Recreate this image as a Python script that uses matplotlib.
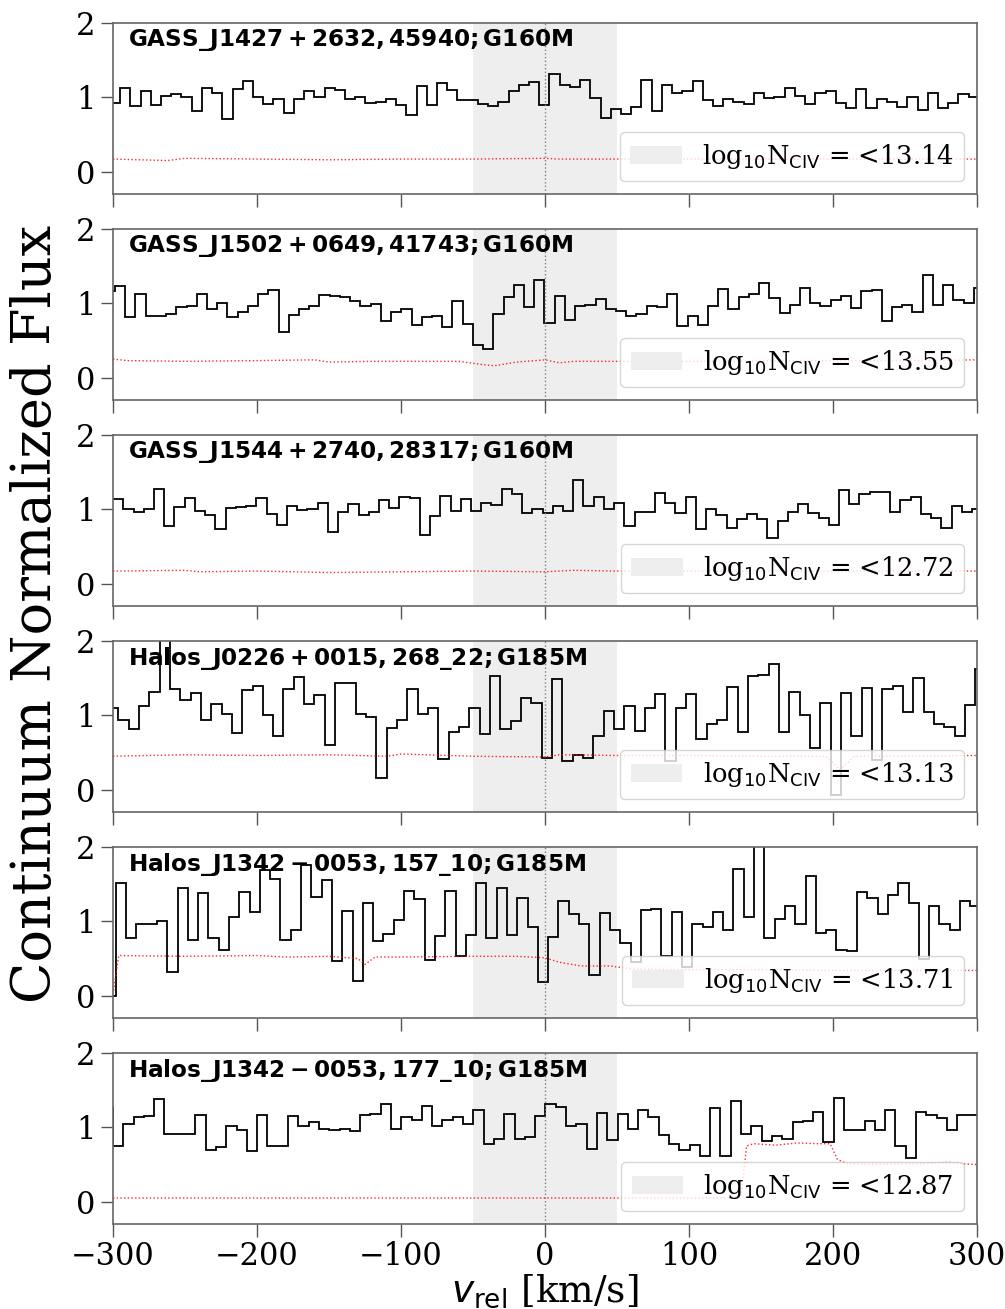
import numpy as np
import matplotlib
matplotlib.use('Agg')
import matplotlib.pyplot as plt

plt.rcParams['font.family'] = 'DejaVu Serif'
plt.rcParams['mathtext.fontset'] = 'dejavusans'

# titulos y limites superiores
titles = [r'$\mathbf{GASS\_J1427+2632,45940;G160M}$',
          r'$\mathbf{GASS\_J1502+0649,41743;G160M}$',
          r'$\mathbf{GASS\_J1544+2740,28317;G160M}$',
          r'$\mathbf{Halos\_J0226+0015,268\_22;G185M}$',
          r'$\mathbf{Halos\_J1342-0053,157\_10;G185M}$',
          r'$\mathbf{Halos\_J1342-0053,177\_10;G185M}$']
logN = ['<13.14', '<13.55', '<12.72', '<13.13', '<13.71', '<12.87']

# malla de velocidad de cada espectro: primer borde y ancho de bin [km/s]
v0 = [-302.2, -305.7, -299.9, -303.5, -305.25, -307.15]
dv = [7.10, 7.10, 7.10, 7.17, 7.15, 7.15]

flux1 = [0.93, 1.13, 0.89, 1.08, 0.90, 1.02, 1.04, 1.00, 0.81, 1.12, 1.06, 0.71, 1.11, 1.22,
         1.00, 0.91, 0.98, 0.79, 0.98, 1.09, 1.00, 1.12, 1.10, 0.98, 1.01, 0.93, 0.94, 0.98,
         0.90, 0.76, 1.15, 0.90, 1.19, 1.10, 0.96, 0.97, 0.91, 0.89, 0.94, 1.08, 1.16, 1.21,
         0.90, 1.32, 1.17, 1.14, 1.24, 0.99, 0.72, 0.84, 0.77, 0.87, 1.23, 0.81, 1.16, 1.06,
         1.08, 1.22, 0.96, 0.89, 0.98, 0.94, 0.91, 1.06, 0.99, 1.00, 1.12, 1.02, 0.91, 1.06,
         1.09, 0.92, 0.85, 1.11, 0.85, 0.98, 0.94, 0.87, 1.00, 0.83, 1.06, 0.85, 0.93, 1.04, 1.00]
flux2 = [1.17,
         1.24, 0.81, 1.13, 0.83, 0.83, 0.85, 0.95, 0.96, 1.12, 0.93, 1.00, 0.81, 0.88, 0.96,
         1.13, 1.18, 0.61, 0.84, 0.92, 0.97, 1.11, 1.10, 1.09, 1.03, 0.96, 0.99, 0.76, 0.89,
         0.92, 0.71, 0.81, 0.83, 0.68, 1.03, 0.72, 0.44, 0.38, 0.86, 1.09, 1.25, 0.95, 1.32,
         0.73, 1.10, 0.78, 0.96, 0.98, 1.06, 0.92, 0.90, 0.83, 0.85, 0.97, 0.95, 1.13, 0.70,
         0.83, 0.71, 0.96, 1.19, 0.92, 1.08, 1.13, 1.27, 1.07, 0.87, 0.98, 1.21, 1.01, 0.96,
         1.05, 1.10, 0.94, 1.16, 1.18, 0.76, 0.95, 0.98, 0.88, 1.38, 0.98, 1.25, 1.05, 1.00, 1.20]
flux3 = [1.14, 1.00, 0.97, 1.00, 1.28, 0.77, 1.03, 1.15, 0.98, 0.92, 0.74, 1.02, 1.03, 1.05,
         1.15, 0.94, 0.79, 1.05, 0.99, 1.00, 1.09, 0.70, 0.97, 1.07, 0.92, 0.96, 1.13, 1.02,
         1.16, 1.15, 0.65, 0.91, 1.18, 0.98, 1.14, 0.98, 1.08, 1.06, 1.28, 1.21, 0.95, 1.00,
         0.95, 1.05, 0.98, 1.40, 1.05, 1.17, 1.00, 1.08, 0.78, 0.97, 0.96, 1.22, 1.08, 0.95,
         1.17, 0.74, 1.01, 0.92, 0.75, 0.87, 0.94, 0.87, 0.61, 0.84, 0.97, 1.07, 0.95, 0.89,
         0.79, 1.26, 1.07, 1.20, 1.23, 1.23, 0.97, 1.12, 1.16, 0.94, 0.89, 0.75, 1.05, 0.97, 1.01]
flux4 = [1.10,
         0.94, 0.81, 1.13, 1.32, 2.30, 1.36, 1.20, 1.30, 0.94, 1.15, 1.02, 0.76, 1.34, 1.40,
         1.01, 0.72, 1.36, 1.52, 1.15, 1.28, 0.60, 1.43, 1.43, 1.02, 0.98, 0.16, 0.83, 0.94,
         1.36, 1.02, 1.10, 0.41, 0.77, 0.85, 1.10, 0.75, 1.53, 0.81, 0.93, 1.23, 1.17, 0.43,
         1.49, 0.39, 0.47, 0.42, 0.72,
         1.06, 0.81, 1.12, 0.79, 1.10, 1.29, 0.38, 1.10, 1.29, 0.68, 0.89, 0.94, 1.38, 0.78,
         1.53, 1.54, 1.69, 0.78, 1.31, 1.00, 0.56, 1.16, -0.07, 1.30, 0.72, 1.37, 0.40, 1.36,
         1.40, 1.04, 1.50, 1.05, 0.89, 0.84, 0.72, 1.14, 1.62]
flux5 = [0.00,
         1.51, 0.77, 0.97, 0.97, 1.01, 0.32, 1.45, 0.75, 1.38, 0.77, 0.61, 1.06, 1.39, 1.13,
         1.69, 1.57, 0.75, 0.88, 1.76, 1.33, 1.55, 0.47, 1.14, 0.20, 1.25, 0.74, 0.83, 1.02,
         1.41, 1.30, 0.48, 0.80, 1.41, 0.53, 0.82, 1.52, 0.77, 1.45, 0.81, 1.32, 0.92, 0.18,
         0.79, 1.27, 1.10, 0.97, 0.28, 1.11, 0.88, 0.71, 0.45, 1.15, 1.16, 0.54, 1.12, 0.39,
         0.97, 0.92, 1.12, 0.89, 1.70, 1.06, 2.30, 0.77, 1.03, 1.21, 0.97, 1.61, 0.84, 0.88,
         0.61, 0.60, 1.39, 1.31, 1.10, 1.36, 1.51, 1.25, 0.49, 1.20, 0.96, 0.88, 1.28, 1.21]
flux6 = [1.28,
         0.75, 1.04, 1.14, 1.15, 1.38, 0.91, 0.91, 0.91, 1.16, 0.69, 0.73, 1.02, 0.96, 0.68,
         1.16, 0.75, 0.75, 1.15, 1.02, 1.07, 0.98, 0.96, 0.98, 0.95, 1.17, 1.18, 1.31, 0.98,
         1.14, 1.10, 1.29, 1.02, 1.10, 1.14, 1.05, 1.23, 0.77, 0.84, 1.18, 0.85, 0.87, 1.15,
         1.32, 1.27, 1.02, 1.04, 0.71, 1.19, 0.83, 1.18, 0.98, 1.23, 1.14, 0.90, 0.77, 0.70,
         0.76, 0.62, 1.26, 0.62, 1.36, 0.91, 1.02, 0.82, 0.88, 0.85, 1.07, 1.08, 1.20, 0.80,
         1.39, 0.97, 0.96, 1.09, 0.96, 1.23, 0.75, 0.59, 1.21, 1.17, 1.12, 0.97, 1.17, 1.17]

# errores (linea roja punteada)
err_v1 = [-300, -262, -250, -200, -150, -100, -50, 0, 10, 50, 100, 150, 200, 250, 300]
err1 = [0.17, 0.15, 0.18, 0.17, 0.16, 0.17, 0.17, 0.18, 0.17, 0.17, 0.17, 0.17, 0.17, 0.17, 0.17]
err_v2 = [-300, -290, -250, -200, -160, -150, -120, -60, -45, -35, -20, 0, 10, 20, 50, 100, 200, 250, 300]
err2 = [0.25, 0.23, 0.22, 0.23, 0.24, 0.21, 0.22, 0.22, 0.18, 0.16, 0.21, 0.24, 0.20, 0.22, 0.22,
        0.22, 0.23, 0.23, 0.24]
err_v3 = [-300, -250, -240, -200, -150, -100, -50, 0, 20, 50, 100, 200, 300]
err3 = [0.17, 0.18, 0.16, 0.17, 0.15, 0.16, 0.17, 0.16, 0.18, 0.17, 0.17, 0.17, 0.17]
err_v4 = [-300, -250, -200, -150, -110, -100, -50, 0, 10, 50, 100, 150, 195, 205, 215, 250, 300]
err4 = [0.45, 0.47, 0.46, 0.47, 0.45, 0.48, 0.45, 0.44, 0.47, 0.46, 0.46, 0.45, 0.45, 0.27, 0.45,
        0.45, 0.46]
err_v5 = [-300, -296, -250, -200, -180, -150, -130, -125, -118, -100, -50, -20, 0, 10, 25, 45, 60,
          100, 150, 200, 250, 300]
err5 = [0.02, 0.54, 0.53, 0.54, 0.52, 0.53, 0.50, 0.42, 0.52, 0.52, 0.53, 0.53, 0.51, 0.45, 0.40,
        0.40, 0.36, 0.35, 0.35, 0.34, 0.34, 0.34]
err_v6 = [-300, -200, -100, 0, 100, 136, 140, 145, 160, 175, 190, 198, 203, 210, 230, 260, 280, 290, 300]
err6 = [0.05, 0.05, 0.05, 0.05, 0.05, 0.05, 0.75, 0.78, 0.76, 0.79, 0.78, 0.78, 0.57, 0.51, 0.50,
        0.51, 0.53, 0.51, 0.50]

fluxes = [flux1, flux2, flux3, flux4, flux5, flux6]
err_vs = [err_v1, err_v2, err_v3, err_v4, err_v5, err_v6]
errs = [err1, err2, err3, err4, err5, err6]

fig, axes = plt.subplots(6, 1, figsize=(10.05, 13.09), dpi=100, sharex=True)
fig.subplots_adjust(left=113/1005, right=977/1005, top=1-23/1309,
                    bottom=1-1224/1309, hspace=35/171)

for i, ax in enumerate(axes):
    ax.axvspan(-50, 50, color='#eeeeee', lw=0, zorder=0,
               label=r'log$_{10}$N$_{\rm CIV}$ = ' + logN[i])
    ax.axvline(0, color='gray', ls=':', lw=1)
    edges = v0[i] + dv[i] * np.arange(len(fluxes[i]) + 1)
    ax.stairs(fluxes[i], edges, color='k', lw=1.3, baseline=None)
    ax.plot(err_vs[i], errs[i], color='red', ls=':', lw=1, alpha=0.85)
    ax.text(0.017, 0.975, titles[i], transform=ax.transAxes, fontsize=16.7,
            va='top', ha='left')
    ax.legend(loc='lower right', fontsize=18.5)
    ax.set_xlim(-300, 300)
    ax.set_ylim(-0.3, 2.0)
    ax.set_yticks([0, 1, 2])
    ax.set_xticks(range(-300, 301, 100))
    ax.tick_params(direction='out', length=9, width=1, labelsize=22, color='#555555')
    for s in ax.spines.values():
        s.set_color('#666666')
        s.set_linewidth(1.2)

axes[-1].set_xlabel(r'$v_{\rm rel}$ [km/s]', fontsize=27, labelpad=0)
fig.text(0.036, 0.531, 'Continuum Normalized Flux', rotation=90, fontsize=39,
         ha='center', va='center')

fig.savefig('out.png', dpi=100)
